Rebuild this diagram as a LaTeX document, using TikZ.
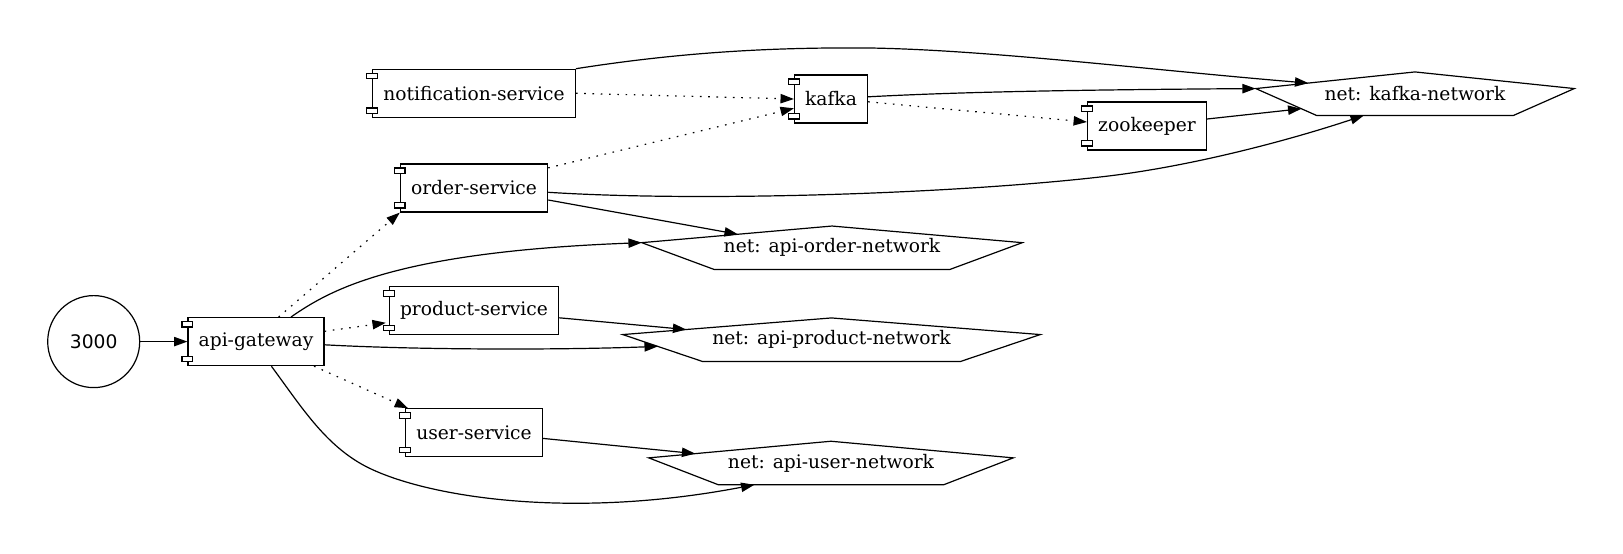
\documentclass[tikz,border=0pt]{standalone}
\usepackage{fontspec}
\setmainfont{DejaVu Serif}
\newfontfamily\portfont{DejaVu Sans}
\usetikzlibrary{arrows.meta,calc}

\begin{document}
\begin{tikzpicture}[
    x=0.75pt, y=-0.75pt,
    link/.style={line width=0.9pt, -{Triangle[length=10pt,width=7pt]}},
    dep/.style={link, dash pattern=on 1.2pt off 5pt},
    comp/.style={draw, line width=0.9pt, minimum width=54pt, minimum height=36pt, inner xsep=8pt, font=\fontsize{14}{17}\selectfont},
    netbox/.style={minimum height=32.25pt, inner sep=0pt, font=\fontsize{14}{17}\selectfont},
    port/.style={draw, circle, line width=0.9pt, minimum size=69pt, inner sep=0pt, font=\portfont\fontsize{14}{17}\selectfont}
]
\useasboundingbox (0,0) rectangle (1623,553);

\node[port] (port) at (93.7,341.6) {3000};
\node[comp] (gw) at (256,341.6) {api-gateway};
\node[comp] (notif) at (474,93.3) {notification-service};
\node[comp] (order) at (474,188) {order-service};
\node[comp] (product) at (474,310.8) {product-service};
\node[comp] (user) at (474,432.8) {user-service};
\node[comp] (kafka) at (831,99) {kafka};
\node[comp] (zoo) at (1147,126) {zookeeper};
\node[netbox, minimum width=238.5pt] (knet) at (1415,93.7) {net: kafka-network};
\node[netbox, minimum width=285pt] (onet) at (832,247.8) {net: api-order-network};
\node[netbox, minimum width=312.75pt] (pnet) at (831.5,339.7) {net: api-product-network};
\node[netbox, minimum width=273pt] (unet) at (831,463) {net: api-user-network};

\foreach \n in {gw,notif,order,product,user,kafka,zoo} {
    \draw[line width=0.9pt, fill=white] ([xshift=-4pt,yshift=-3.5pt]\n.north west) rectangle ++(8pt,-4pt);
    \draw[line width=0.9pt, fill=white] ([xshift=-4pt,yshift=3.5pt]\n.south west) rectangle ++(8pt,4pt);
}
\foreach \n in {knet,onet,pnet,unet} {
    \coordinate (\n-t) at (\n.north);
    \coordinate (\n-l) at ($(\n.north west)!.382!(\n.south west)$);
    \coordinate (\n-r) at ($(\n.north east)!.382!(\n.south east)$);
    \coordinate (\n-bl) at ($(\n.south west)!.191!(\n.south east)$);
    \coordinate (\n-br) at ($(\n.south east)!.191!(\n.south west)$);
    \draw[line width=0.9pt] (\n-l) -- (\n-t) -- (\n-r) -- (\n-br) -- (\n-bl) -- cycle;
}

\draw[link] (port) -- (gw.west);
\draw[dep] ($(gw.north)+(22.6,0)$) -- (order.south west);
\draw[dep] ($(gw.east)+(0,-10.3)$) -- ($(product.west)+(-3,12)$);
\draw[dep] ($(gw.south)+(58,0)$) -- ($(user.north west)+(3,0)$);
\draw[link] ($(gw.north)+(35,0)$) .. controls (330,290) and (395,252) .. (onet-l);
\draw[link] ($(gw.east)+(0,3.2)$) .. controls (420,350) and (560,350) .. ($(pnet-l)!.44!(pnet-bl)$);
\draw[link] ($(gw.south)+(15.4,0)$) .. controls (300,405) and (322,440) .. (358,462) .. controls (410,494) and (560,522) .. ($(unet-bl)!.16!(unet-br)$);
\draw[link] ($(order.east)+(0,12)$) -- ($(onet-l)!.505!(onet-t)$);
\draw[dep] ($(order.north east)+(0,4.5)$) -- ($(kafka.west)+(0,9.3)$);
\draw[link] ($(order.east)+(0,4.3)$) .. controls (700,202) and (950,194) .. (1100,177) .. controls (1190,167) and (1290,140) .. ($(knet-bl)!.24!(knet-br)$);
\draw[dep] (notif.east) -- (kafka.west);
\draw[link] (notif.north east) .. controls (670,54) and (760,47) .. (870,48) .. controls (990,50) and (1150,70) .. ($(knet-l)!.33!(knet-t)$);
\draw[link] ($(kafka.east)+(0,-2.2)$) .. controls (950,92.5) and (1050,90) .. (knet-l);
\draw[dep] ($(kafka.east)+(0,2.8)$) -- ($(zoo.west)+(0,-4)$);
\draw[link] ($(zoo.east)+(0,-7)$) -- ($(knet-l)!.75!(knet-bl)$);
\draw[link] ($(product.east)+(0,7)$) -- ($(pnet-l)!.304!(pnet-t)$);
\draw[link] ($(user.east)+(0,5.6)$) -- ($(unet-l)!.255!(unet-t)$);
\end{tikzpicture}
\end{document}
